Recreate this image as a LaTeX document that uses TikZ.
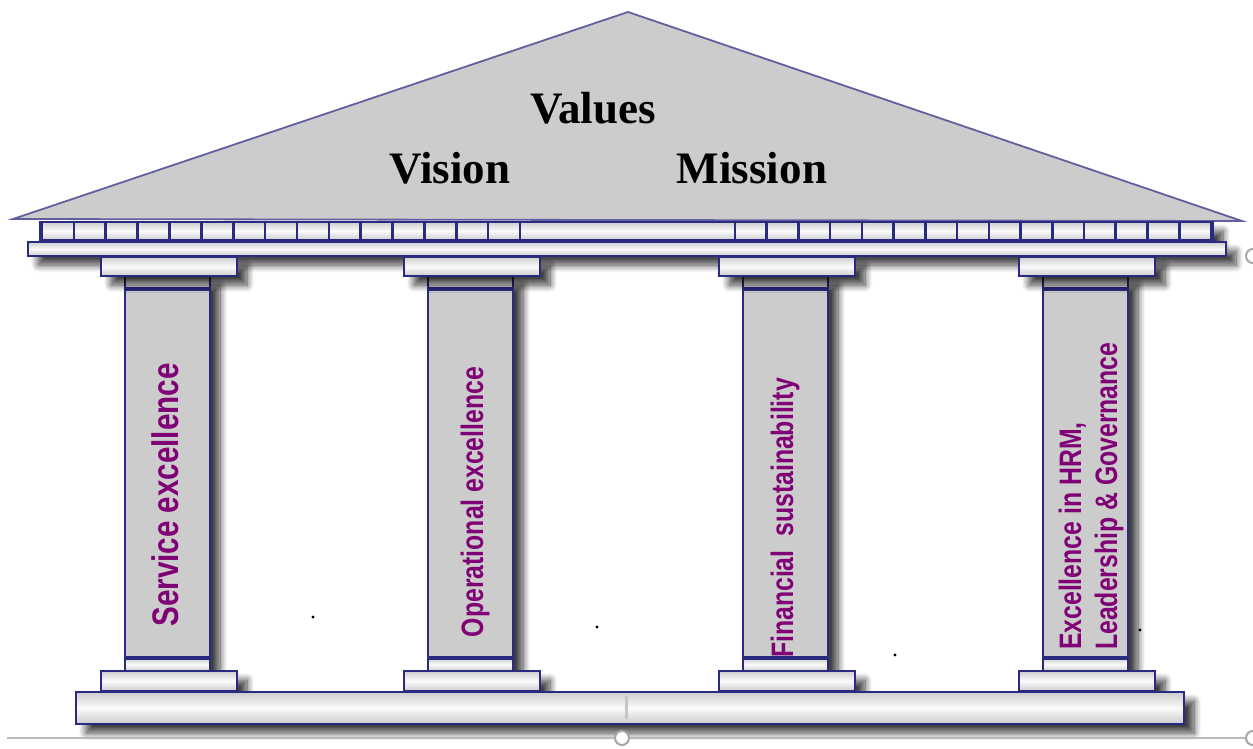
\documentclass[tikz,border=0pt]{standalone}
\usepackage{fontspec}
\usetikzlibrary{shadows.blur}
\newfontfamily\roofface{Liberation Serif}
\newfontfamily\pillarface[FakeStretch=0.8]{Liberation Sans}
\definecolor{navy}{RGB}{42,42,128}
\definecolor{roofline}{RGB}{96,96,160}
\definecolor{stone}{RGB}{204,204,204}
\definecolor{plum}{RGB}{128,0,118}
\tikzset{
  shade/.style={blur shadow={shadow xshift=10pt, shadow yshift=-9pt,
    shadow opacity=75, shadow blur steps=10, shadow blur radius=7pt}},
  slab/.style={draw=navy, line width=2.6pt, top color=stone,
    bottom color=stone, middle color=white!92!stone},
  shaft/.style={draw=navy, line width=2.8pt, fill=stone},
  rooftext/.style={font=\roofface\bfseries\fontsize{45}{50}\selectfont},
  pillartext/.style={text=plum, rotate=90, inner sep=0pt}
}
\begin{document}
\begin{tikzpicture}[x=1pt, y=-1pt]
  \useasboundingbox (0,0) rectangle (1253,748);
  % roof
  \draw[roofline, line width=1.8pt, fill=stone]
    (13,219) -- (628,12) -- (1242,221) -- cycle;
  \draw[slab, shade] (40,222) rectangle (1213,240);
  \foreach \i in {0,...,15} {
    \draw[navy, line width=2.6pt] (42+31.87*\i,222) -- (42+31.87*\i,240);
    \draw[navy, line width=2.6pt] (735+31.73*\i,222) -- (735+31.73*\i,240);
  }
  \draw[slab, shade] (28,242) rectangle (1226,256);
  % columns
  \foreach \cx in {168,471,786,1086} {
    \draw[shaft, shade] (\cx-43,276) rectangle (\cx+42,671);
    \draw[slab] (\cx-43,276) rectangle (\cx+42,289);
    \draw[slab] (\cx-43,658) rectangle (\cx+42,671);
    \draw[navy, line width=3.6pt] (\cx-43,289) -- (\cx+42,289);
    \draw[navy, line width=3.6pt] (\cx-43,658) -- (\cx+42,658);
    \draw[slab, shade] (\cx-67,257) rectangle (\cx+69,276);
    \draw[slab, shade] (\cx-67,671) rectangle (\cx+69,691);
  }
  \draw[slab, shade] (76,692) rectangle (1184,724);
  % texts
  \node[rooftext] (values) at (593,108) {Values};
  \node[rooftext] (vision) at (450,168) {Vision};
  \node[rooftext] (mission) at (752,168) {Mission};
  \node[pillartext, font=\pillarface\bfseries\fontsize{37}{42}\selectfont]
    (service) at (165,495) {Service excellence};
  \node[pillartext, font=\pillarface\bfseries\fontsize{31}{36}\selectfont]
    (operational) at (475,502) {Operational excellence};
  \node[pillartext, font=\pillarface\bfseries\fontsize{31}{36}\selectfont]
    (financial) at (785,518) {Financial\ \ sustainability};
  \node[pillartext, font=\pillarface\bfseries\fontsize{31}{36}\selectfont,
    anchor=west, align=left]
    (governance) at (1091,650) {Excellence in HRM,\\Leadership \& Governance};
  % specks and frame handles
  \fill (313,617) circle (1.6pt) (597,627) circle (1.6pt)
    (895,655) circle (1.6pt) (1140,630) circle (1.6pt);
  \draw[gray!55, line width=1.2pt] (7,738) -- (1253,738);
  \draw[gray!45, line width=3pt] (626,696) -- (626,719);
  \draw[gray!70, line width=2pt, fill=white] (622,738) circle (7);
  \draw[gray!70, line width=2pt, fill=white] (1253,738) circle (7);
  \draw[gray!70, line width=2pt, fill=white] (1253,256) circle (7);
\end{tikzpicture}
\end{document}
